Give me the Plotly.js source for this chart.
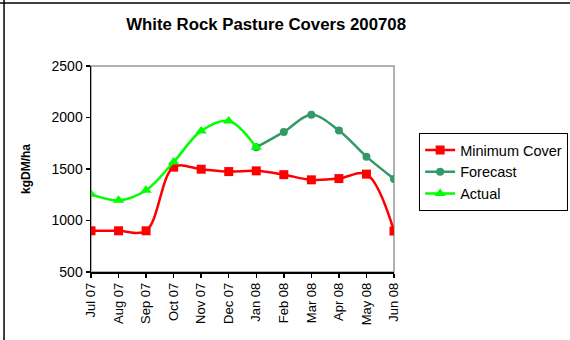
<!DOCTYPE html>
<html>
<head>
<meta charset="utf-8">
<script src="https://cdn.plot.ly/plotly-3.0.1.min.js"></script>
<style>html,body{margin:0;padding:0;background:#fff;}#chart{width:570px;height:340px;}</style>
</head>
<body>
<div id="chart"></div>
<script>
var months = ["Jul 07","Aug 07","Sep 07","Oct 07","Nov 07","Dec 07","Jan 08","Feb 08","Mar 08","Apr 08","May 08","Jun 08"];
var minimumCover = [900, 900, 900, 1518, 1498, 1475, 1482, 1445, 1395, 1407, 1450, 898];
var forecast = [null, null, null, null, null, null, 1710, 1860, 2026, 1873, 1620, 1404];
var actual = [1256, 1196, 1294, 1568, 1870, 1966, 1710, null, null, null, null, null];

var font = "Liberation Sans, Arial, sans-serif";
var traces = [
  {name: "Minimum Cover", x: months, y: minimumCover, type: "scatter", mode: "lines+markers",
   line: {color: "#FF0000", width: 2.5, shape: "spline", smoothing: 1},
   marker: {symbol: "square", size: 9, color: "#FF0000"}},
  {name: "Forecast", x: months, y: forecast, type: "scatter", mode: "lines+markers",
   line: {color: "#339966", width: 2.5, shape: "spline", smoothing: 1},
   marker: {symbol: "circle", size: 8, color: "#339966"}},
  {name: "Actual", x: months, y: actual, type: "scatter", mode: "lines+markers",
   line: {color: "#00FF00", width: 2.5, shape: "spline", smoothing: 1},
   marker: {symbol: "triangle-up", size: 10, color: "#00FF00"}}
];

var layout = {
  width: 570, height: 340,
  margin: {l: 91, r: 176, t: 66, b: 68, autoexpand: false},
  paper_bgcolor: "#fff", plot_bgcolor: "rgba(0,0,0,0)",
  font: {family: font, size: 13, color: "#000"},
  title: {text: "<b>White Rock Pasture Covers 200708</b>", font: {family: font, size: 16.8, color: "#000"},
          x: 0.578, xref: "paper", xanchor: "center", y: 0.93, yanchor: "middle"},
  xaxis: {type: "category", range: [0, 11], showgrid: false, zeroline: false,
          showline: true, linecolor: "#000", linewidth: 1.5,
          ticks: "outside", ticklen: 4, tickcolor: "#000", tickwidth: 1.5,
          tickangle: -90, tickfont: {family: font, size: 13, color: "#000"}},
  yaxis: {range: [500, 2500], dtick: 500, showgrid: false, zeroline: false,
          showline: true, linecolor: "#000", linewidth: 1.5,
          ticks: "outside", ticklen: 4, tickcolor: "#000", tickwidth: 1.5,
          tickfont: {family: font, size: 14, color: "#000"},
          title: {text: "<b>kgDM/ha</b>", font: {family: font, size: 12, color: "#000"}, standoff: 18}},
  xaxis2: {overlaying: "x", anchor: "y", side: "bottom", range: [0, 11], dtick: 1,
           showgrid: false, zeroline: false, showline: false, showticklabels: false,
           ticks: "inside", ticklen: 4, tickcolor: "#000", tickwidth: 1.5},
  yaxis2: {overlaying: "y", anchor: "x", side: "left", range: [500, 2500], dtick: 500,
           showgrid: false, zeroline: false, showline: false, showticklabels: false,
           ticks: "inside", ticklen: 4, tickcolor: "#000", tickwidth: 1.5},
  legend: {x: 1.083, xanchor: "left", y: 0.675, yanchor: "top",
           bordercolor: "#000", borderwidth: 1, bgcolor: "#fff",
           font: {family: font, size: 14.5, color: "#000"},
           tracegroupgap: 0},
  showlegend: true,
  shapes: [
    {type: "rect", xref: "paper", yref: "paper", x0: 0, x1: 1, y0: 0, y1: 1,
     line: {color: "#999", width: 1.5}, layer: "below"},
    {type: "line", xref: "paper", yref: "paper", x0: -0.287, x1: -0.287, y0: -0.4, y1: 1.5,
     line: {color: "#000", width: 1.5}},
    {type: "line", xref: "paper", yref: "paper", x0: -0.3, x1: 1.6, y0: 1.306, y1: 1.306,
     line: {color: "#000", width: 1.5}}
  ]
};

Plotly.newPlot("chart", traces, layout, {displayModeBar: false, staticPlot: true});
</script>
</body>
</html>
